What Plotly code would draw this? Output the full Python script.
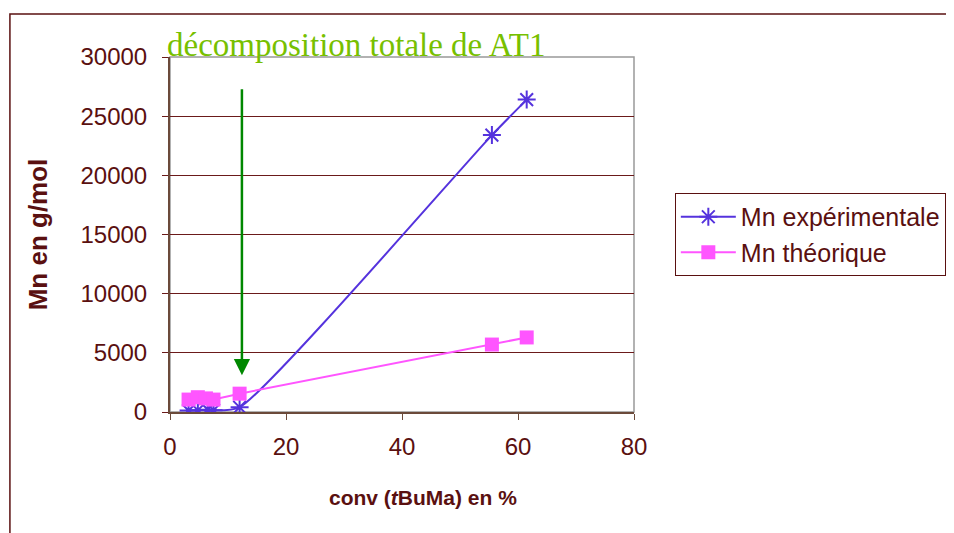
import plotly.graph_objects as go

# conversion (%) and Mn values
conv_exp = [3.2, 4.8, 6.5, 7.5, 12.0, 55.5, 61.5]
mn_exp = [120, 150, 200, 150, 400, 23400, 26400]

conv_theo = [3.2, 4.8, 6.2, 7.5, 12.0, 55.5, 61.5]
mn_theo = [1050, 1250, 1150, 1050, 1550, 5700, 6300]

brown = "#5a1010"
font = "Liberation Sans, Arial, sans-serif"

fig = go.Figure()
fig.add_trace(go.Scatter(
    x=conv_exp, y=mn_exp, name="Mn expérimentale", mode="lines+markers",
    line=dict(color="#5533dd", width=2, shape="spline", smoothing=0.6),
    marker=dict(symbol="asterisk-open", size=15, line=dict(color="#5533dd", width=2)),
))
fig.add_trace(go.Scatter(
    x=conv_theo, y=mn_theo, name="Mn théorique", mode="lines+markers",
    line=dict(color="#ff55ff", width=2),
    marker=dict(symbol="square", size=14, color="#ff55ff"),
))

# green arrow marking total decomposition of AT1
fig.add_annotation(x=12.4, y=3100, ax=12.4, ay=27400, xref="x", yref="y", axref="x", ayref="y",
                   text="", showarrow=True, arrowhead=2, arrowsize=1.3, arrowwidth=2.5,
                   arrowcolor="#008800")
fig.add_annotation(x=-0.011, y=1.034, xref="paper", yref="paper", xanchor="left", yanchor="middle",
                   text="décomposition totale de AT1", showarrow=False,
                   font=dict(family="Liberation Serif, Times New Roman, serif", size=33, color="#77c000"))
# x axis title (sits a little right of the plot centre in the original)
fig.add_annotation(x=0.545, y=-0.24, xref="paper", yref="paper", xanchor="center", yanchor="middle",
                   text="<b>conv (<i>t</i>BuMa) en %</b>", showarrow=False,
                   font=dict(size=21, color=brown))

# outer chart frame
fig.add_shape(type="rect", xref="paper", yref="paper", x0=-0.345, x1=1.8, y0=-0.4, y1=1.121,
              line=dict(color=brown, width=1.5), layer="below")
# plot area border (top/right)
fig.add_shape(type="rect", xref="paper", yref="paper", x0=0, x1=1, y0=0, y1=1,
              line=dict(color="#999999", width=1.5), layer="below")

# page body adds an 8px offset, so the figure is sized to 946x525
fig.update_layout(
    width=946, height=525,
    margin=dict(l=162, r=320, t=49, b=121, autoexpand=False),
    paper_bgcolor="white", plot_bgcolor="white",
    font=dict(family=font, size=24, color=brown),
    showlegend=True,
    legend=dict(x=1.088, y=0.617, xanchor="left", yanchor="top", bgcolor="white",
                bordercolor=brown, borderwidth=1, font=dict(size=25, color=brown),
                itemwidth=55, tracegroupgap=2),
    xaxis=dict(range=[0, 80], dtick=20, showgrid=False, zeroline=False, showline=True,
               linecolor="#6b4a3a", linewidth=2, ticks="outside", ticklen=6, tickcolor="#6b4a3a",
               ticklabelstandoff=6, automargin=False),
    yaxis=dict(range=[0, 30000], dtick=5000, tickformat="d", showgrid=True, gridcolor="#6b1a1a", gridwidth=1,
               zeroline=False, showline=True, linecolor="#6b4a3a", linewidth=2,
               ticks="outside", ticklen=6, tickcolor="#6b1a1a", ticklabelstandoff=10, automargin=False,
               title=dict(text="<b>Mn en g/mol</b>", font=dict(size=26, color=brown), standoff=25)),
)

fig.write_html("out.html")
